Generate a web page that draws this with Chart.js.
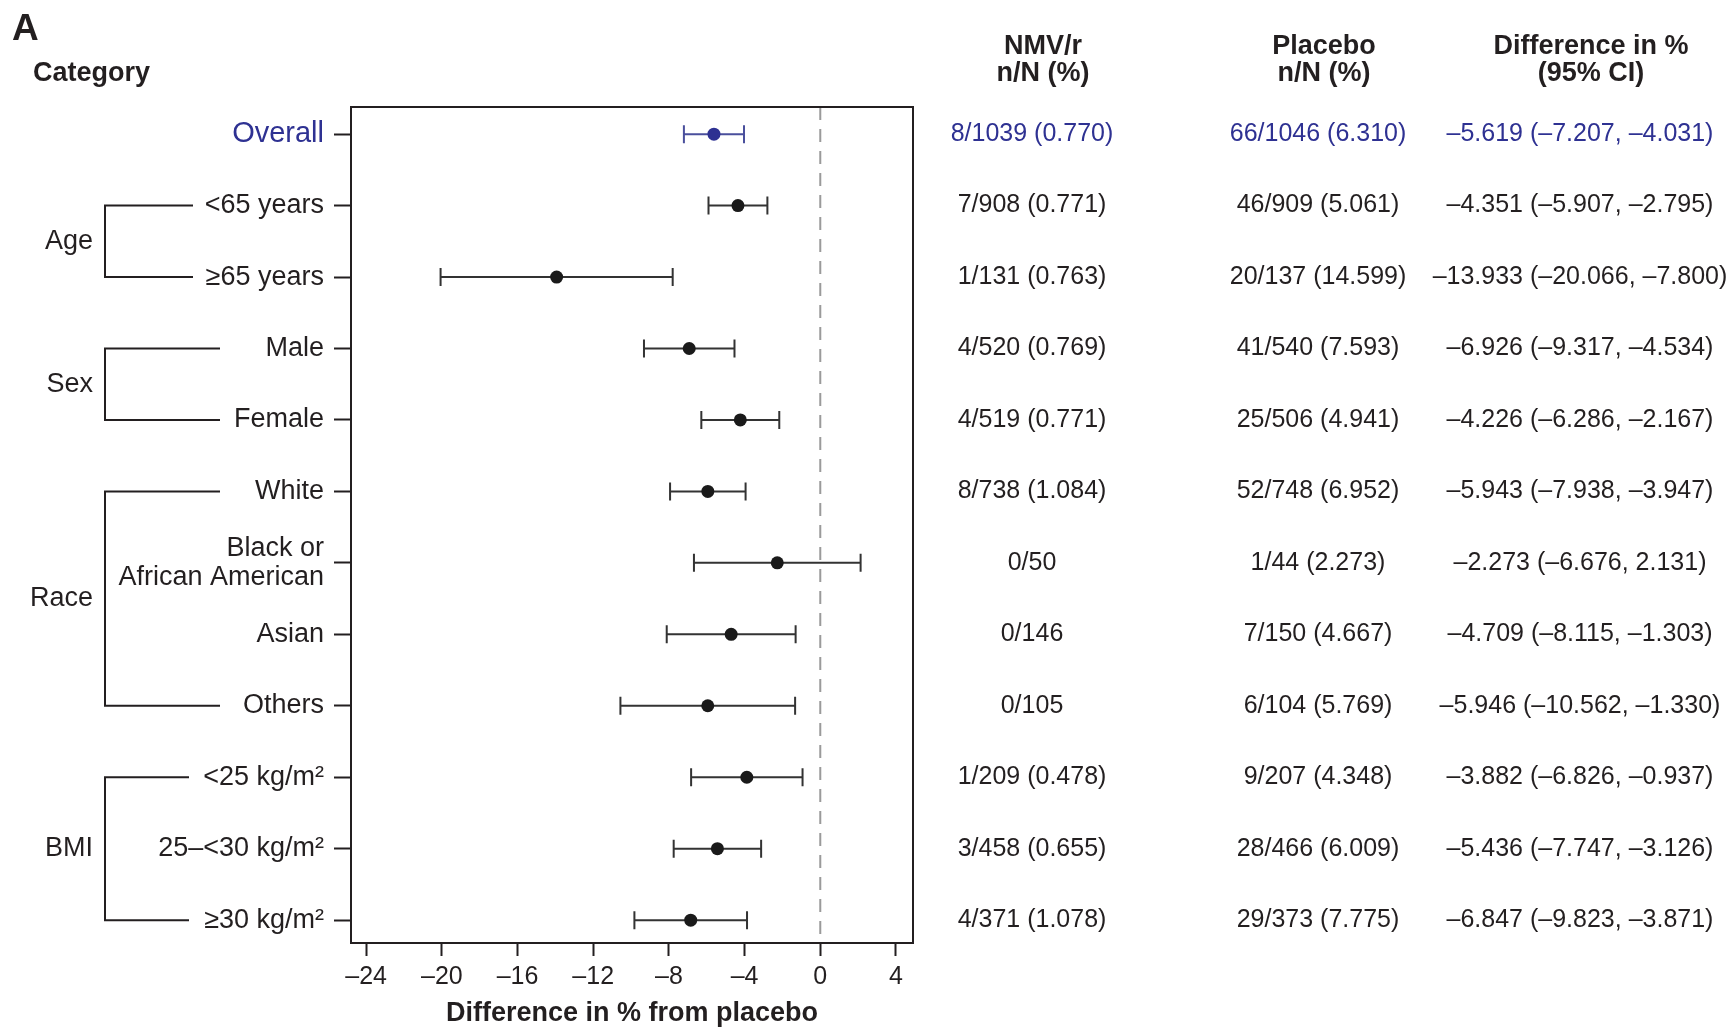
<!DOCTYPE html>
<html>
<head>
<meta charset="utf-8">
<title>Forest plot</title>
<script src="https://cdn.jsdelivr.net/npm/chart.js@4.4.1/dist/chart.umd.min.js"></script>
<style>
  html, body { margin: 0; padding: 0; background: #fff; }
  #wrap { width: 1726px; height: 1027px; position: relative; }
</style>
</head>
<body>
<div id="wrap"><canvas id="forest"></canvas></div>
<script>
const categories = ['Overall', '<65 years', '≥65 years', 'Male', 'Female', 'White',
    ['Black or', 'African American'], 'Asian', 'Others', '<25 kg/m²', '25–<30 kg/m²', '≥30 kg/m²']
const estimates = [-5.619, -4.351, -13.933, -6.926, -4.226, -5.943, -2.273, -4.709, -5.946, -3.882, -5.436, -6.847]
const lower = [-7.207, -5.907, -20.066, -9.317, -6.286, -7.938, -6.676, -8.115, -10.562, -6.826, -7.747, -9.823]
const upper = [-4.031, -2.795, -7.800, -4.534, -2.167, -3.947, 2.131, -1.303, -1.330, -0.937, -3.126, -3.871]
const nmvText = ['8/1039 (0.770)', '7/908 (0.771)', '1/131 (0.763)', '4/520 (0.769)', '4/519 (0.771)', '8/738 (1.084)',
    '0/50', '0/146', '0/105', '1/209 (0.478)', '3/458 (0.655)', '4/371 (1.078)']
const placeboText = ['66/1046 (6.310)', '46/909 (5.061)', '20/137 (14.599)', '41/540 (7.593)', '25/506 (4.941)', '52/748 (6.952)',
    '1/44 (2.273)', '7/150 (4.667)', '6/104 (5.769)', '9/207 (4.348)', '28/466 (6.009)', '29/373 (7.775)']
const xTicks = [-24, -20, -16, -12, -8, -4, 0, 4]
const groupNames = ['Age', 'Sex', 'Race', 'BMI']
const groupFirst = [1, 3, 5, 9]
const groupLast = [2, 4, 8, 11]

// layout
const TEXT = '#231f20'
const BLUE = '#2e3192'
const FONT = "'Liberation Sans', Arial, Helvetica, sans-serif"
const bracketEnd = [193, 220, 220, 189]

const fmt = v => (v < 0 ? '–' : '') + Math.abs(v).toFixed(3)

const forestPlugin = {
    id: 'forest',
    beforeDatasetsDraw(chart) {
        const { ctx, chartArea, scales: { x, y } } = chart
        ctx.save()
        // reference line at 0
        const x0 = x.getPixelForValue(0)
        ctx.strokeStyle = '#9a9a9a'
        ctx.lineWidth = 2
        ctx.setLineDash([13, 9])
        ctx.beginPath()
        ctx.moveTo(x0, chartArea.top)
        ctx.lineTo(x0, chartArea.bottom)
        ctx.stroke()
        ctx.setLineDash([])

        // confidence intervals
        ctx.lineWidth = 2
        categories.forEach((c, i) => {
            const py = y.getPixelForValue(i)
            const xl = x.getPixelForValue(lower[i])
            const xh = x.getPixelForValue(upper[i])
            ctx.strokeStyle = i === 0 ? '#4a4f9c' : '#333'
            ctx.beginPath()
            ctx.moveTo(xl, py); ctx.lineTo(xh, py)
            ctx.moveTo(xl, py - 9); ctx.lineTo(xl, py + 9)
            ctx.moveTo(xh, py - 9); ctx.lineTo(xh, py + 9)
            ctx.stroke()
        })
        ctx.restore()
    },
    afterDraw(chart) {
        const { ctx, chartArea, scales: { y } } = chart
        ctx.save()

        // box
        ctx.strokeStyle = TEXT
        ctx.lineWidth = 2
        ctx.strokeRect(chartArea.left, chartArea.top, chartArea.right - chartArea.left, chartArea.bottom - chartArea.top)

        // panel letter and headers
        ctx.fillStyle = TEXT
        ctx.textBaseline = 'middle'
        ctx.textAlign = 'left'
        ctx.font = 'bold 37px ' + FONT
        ctx.fillText('A', 12, 30)
        ctx.font = 'bold 27px ' + FONT
        ctx.fillText('Category', 33, 74)
        ctx.textAlign = 'center'
        ctx.fillText('NMV/r', 1043, 47)
        ctx.fillText('n/N (%)', 1043, 74)
        ctx.fillText('Placebo', 1324, 47)
        ctx.fillText('n/N (%)', 1324, 74)
        ctx.fillText('Difference in %', 1591, 47)
        ctx.fillText('(95% CI)', 1591, 74)

        // table values
        ctx.font = '25px ' + FONT
        categories.forEach((c, i) => {
            const py = y.getPixelForValue(i)
            ctx.fillStyle = i === 0 ? BLUE : TEXT
            ctx.fillText(nmvText[i], 1032, py)
            ctx.fillText(placeboText[i], 1318, py)
            ctx.fillText(fmt(estimates[i]) + ' (' + fmt(lower[i]) + ', ' + fmt(upper[i]) + ')', 1580, py)
        })

        // group brackets
        ctx.fillStyle = TEXT
        ctx.strokeStyle = TEXT
        ctx.lineWidth = 2
        ctx.textAlign = 'right'
        ctx.font = '27px ' + FONT
        groupNames.forEach((g, k) => {
            const yt = y.getPixelForValue(groupFirst[k])
            const yb = y.getPixelForValue(groupLast[k])
            ctx.beginPath()
            ctx.moveTo(bracketEnd[k], yt)
            ctx.lineTo(105, yt)
            ctx.lineTo(105, yb)
            ctx.lineTo(bracketEnd[k], yb)
            ctx.stroke()
            ctx.fillText(g, 93, (yt + yb) / 2)
        })
        ctx.restore()
    }
}

const ctx = document.getElementById('forest').getContext('2d')
const forestChart = new Chart(ctx, {
    type: 'scatter',
    data: {
        datasets: [{
            data: estimates.map((v, i) => ({ x: v, y: i })),
            pointRadius: 6.5,
            pointBorderWidth: 0,
            pointBackgroundColor: categories.map((c, i) => i === 0 ? BLUE : '#1a1a1a')
        }]
    },
    options: {
        responsive: true,
        maintainAspectRatio: false,
        animation: false,
        layout: {
            padding: { top: 107, right: 813, left: 0, bottom: 0 }
        },
        scales: {
            x: {
                type: 'linear',
                min: -24.8,
                max: 4.9,
                afterBuildTicks: scale => { scale.ticks = xTicks.map(v => ({ value: v })) },
                afterFit: scale => { scale.height = 84 },
                grid: { drawOnChartArea: false, tickLength: 13, tickWidth: 2, tickColor: TEXT },
                border: { display: true, color: TEXT, width: 2 },
                ticks: {
                    autoSkip: false,
                    maxRotation: 0,
                    padding: 6,
                    color: TEXT,
                    font: { family: FONT, size: 25 },
                    callback: v => (v < 0 ? '–' : '') + Math.abs(v)
                },
                title: {
                    display: true,
                    text: 'Difference in % from placebo',
                    color: TEXT,
                    font: { family: FONT, size: 27, weight: 'bold', lineHeight: 0.9 },
                    padding: { top: 0, bottom: 1 }
                }
            },
            y: {
                type: 'linear',
                reverse: true,
                min: -0.38,
                max: 11.32,
                afterBuildTicks: scale => { scale.ticks = categories.map((c, i) => ({ value: i })) },
                afterFit: scale => { scale.width = 351 },
                grid: { drawOnChartArea: false, tickLength: 17, tickWidth: 2, tickColor: TEXT },
                border: { display: true, color: TEXT, width: 2 },
                ticks: {
                    autoSkip: false,
                    padding: 10,
                    color: c => c.index === 0 ? BLUE : TEXT,
                    font: c => ({ family: FONT, size: c.index === 0 ? 29 : 27, lineHeight: 1.07 }),
                    callback: (v, i) => categories[i]
                }
            }
        },
        plugins: {
            legend: { display: false },
            tooltip: { enabled: false }
        }
    },
    plugins: [forestPlugin]
})
</script>
</body>
</html>
